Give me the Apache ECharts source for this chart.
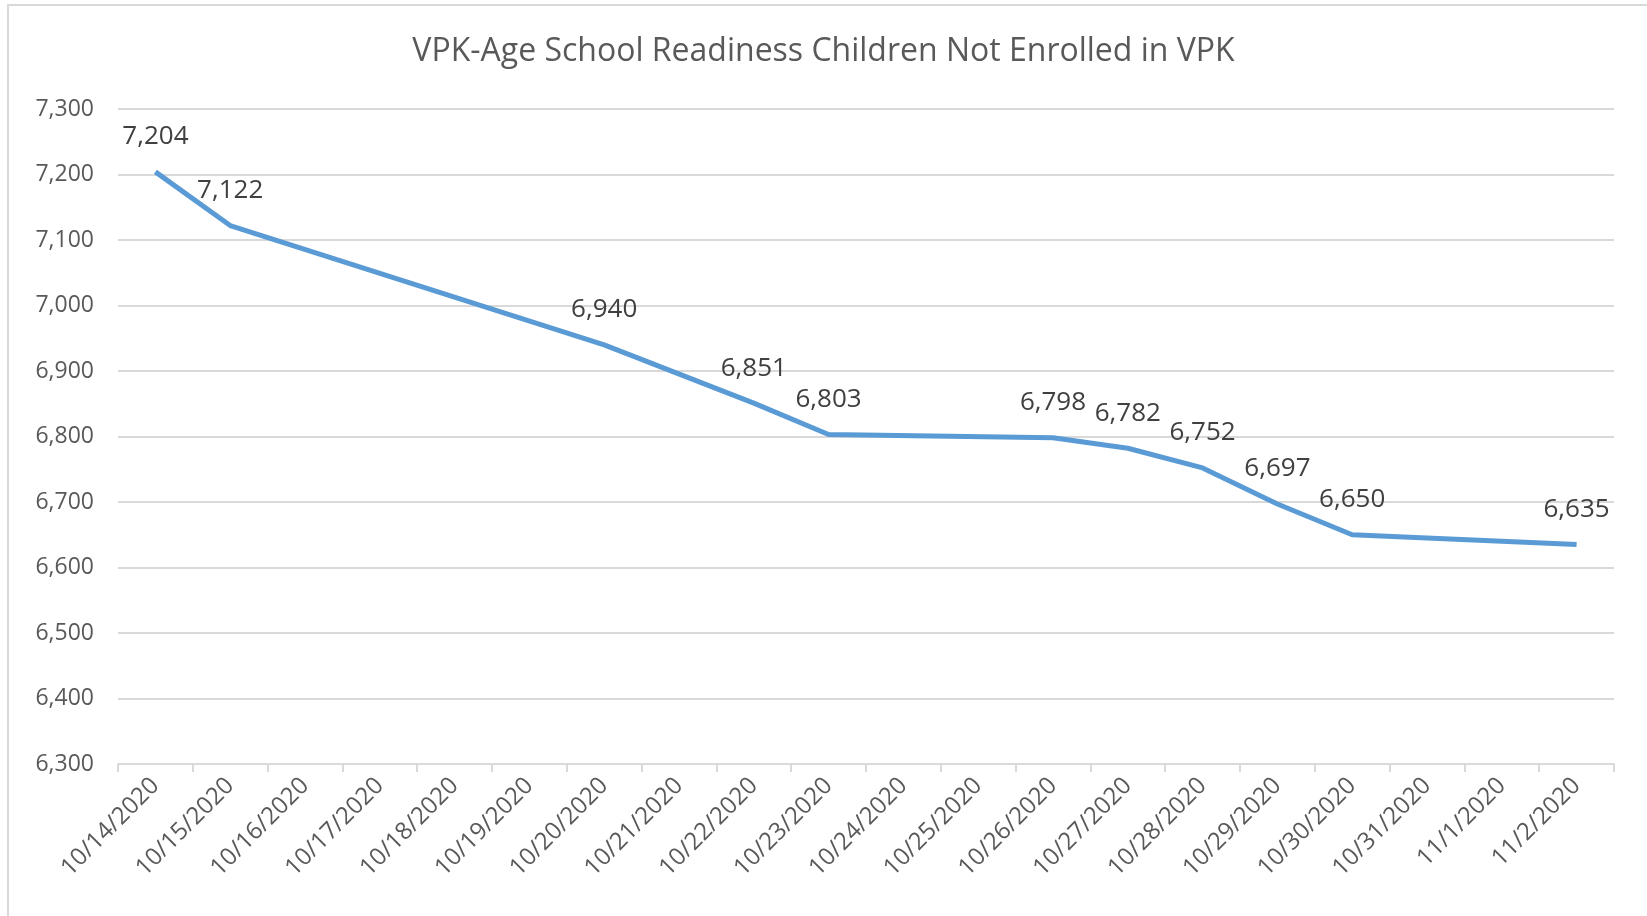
<!DOCTYPE html>
<html>
<head>
<meta charset="utf-8">
<title>VPK-Age School Readiness Children Not Enrolled in VPK</title>
<script src="https://cdn.jsdelivr.net/npm/echarts@6/dist/echarts.min.js"></script>
<style>
  html, body { margin: 0; padding: 0; background: #fff; }
  #chart { width: 1647px; height: 916px; }
</style>
</head>
<body>
<div id="chart"></div>
<script>
// dates on the axis (one per day)
var dates = ['10/14/2020', '10/15/2020', '10/16/2020', '10/17/2020', '10/18/2020',
  '10/19/2020', '10/20/2020', '10/21/2020', '10/22/2020', '10/23/2020', '10/24/2020',
  '10/25/2020', '10/26/2020', '10/27/2020', '10/28/2020', '10/29/2020', '10/30/2020',
  '10/31/2020', '11/1/2020', '11/2/2020'];

// children not enrolled, null where no count was taken
var notEnrolled = [7204, 7122, null, null, null, null, 6940, null, 6851, 6803, null,
  null, 6798, 6782, 6752, 6697, 6650, null, null, 6635];

var yMin = 6300, yMax = 7300, yStep = 100;

var chart = echarts.init(document.getElementById('chart'));

var fmt = function (v) {
  return Number(v).toLocaleString('en-US');
};

chart.setOption({
  animation: false,
  textStyle: { fontFamily: 'Open Sans' },
  graphic: [{
    type: 'rect',
    shape: { x: 8, y: 5, width: 1660, height: 930 },
    style: { fill: null, stroke: '#d9d9d9', lineWidth: 2 },
    silent: true
  }],
  title: {
    text: 'VPK-Age School Readiness Children Not Enrolled in VPK',
    left: 'center',
    top: 31,
    textStyle: { color: '#595959', fontSize: 32, fontWeight: 'normal', fontFamily: 'Open Sans' }
  },
  grid: { left: 118, right: 33, top: 109, bottom: 152 },
  xAxis: {
    type: 'category',
    data: dates,
    boundaryGap: true,
    axisLine: { lineStyle: { color: '#d9d9d9', width: 2 } },
    axisTick: { show: true, length: 8, lineStyle: { color: '#d9d9d9', width: 2 } },
    axisLabel: { rotate: 45, interval: 0, color: '#595959', fontSize: 24, margin: 18 }
  },
  yAxis: {
    type: 'value',
    min: yMin,
    max: yMax,
    interval: yStep,
    axisLine: { show: false },
    axisTick: { show: false },
    splitLine: { lineStyle: { color: '#d9d9d9', width: 2 } },
    axisLabel: { color: '#595959', fontSize: 23, margin: 24, formatter: fmt }
  },
  series: [{
    type: 'line',
    data: notEnrolled,
    connectNulls: true,
    symbol: 'circle',
    symbolSize: 0,
    showSymbol: true,
    lineStyle: { color: '#5b9bd5', width: 5 },
    itemStyle: { color: '#5b9bd5' },
    label: {
      show: true,
      position: 'top',
      distance: 22,
      color: '#404040',
      fontSize: 26,
      formatter: function (p) { return fmt(p.value); }
    }
  }]
});
</script>
</body>
</html>
